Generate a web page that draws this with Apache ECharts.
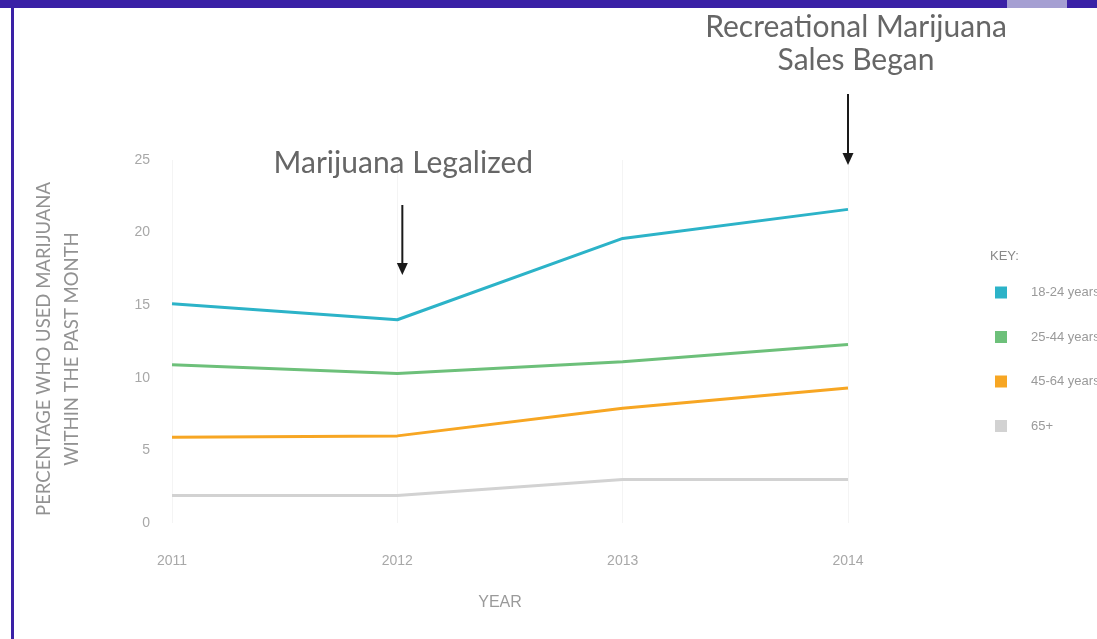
<!DOCTYPE html>
<html>
<head>
<meta charset="utf-8">
<script src="https://cdn.jsdelivr.net/npm/echarts@6/dist/echarts.min.js"></script>
<style>
  html, body { margin: 0; padding: 0; background: #ffffff; }
  #chart { width: 1097px; height: 639px; }
</style>
</head>
<body>
<div id="chart"></div>
<script>
// Past-month marijuana use by age group, percent
const years = ['2011', '2012', '2013', '2014'];
const age18to24 = [15.1, 14.0, 19.6, 21.6];
const age25to44 = [10.9, 10.3, 11.1, 12.3];
const age45to64 = [5.9, 6.0, 7.9, 9.3];
const age65plus = [1.9, 1.9, 3.0, 3.0];
const seriesNames = ['18-24 years', '25-44 years', '45-64 years', '65+'];
const yTicks = [0, 5, 10, 15, 20, 25];

const colors = ['#2cb3c8', '#6dc07a', '#f7a623', '#d2d2d2'];
const tickFont = '"Liberation Sans Narrow", "Liberation Sans", sans-serif';
const labelFont = 'Lato, "Open Sans", sans-serif';

const chart = echarts.init(document.getElementById('chart'), null, { renderer: 'canvas' });

const seriesData = [age18to24, age25to44, age45to64, age65plus];

const option = {
  backgroundColor: '#ffffff',
  animation: false,
  grid: { left: 172, right: 249, top: 160, bottom: 116, containLabel: false },
  xAxis: {
    type: 'category',
    data: years,
    boundaryGap: false,
    axisLine: { show: false },
    axisTick: { show: false },
    axisLabel: { color: '#a8a8a8', fontSize: 14, fontFamily: tickFont, margin: 31 },
    splitLine: { show: true, lineStyle: { color: '#f4f4f4', width: 1 } }
  },
  yAxis: {
    type: 'value',
    min: yTicks[0],
    max: yTicks[yTicks.length - 1],
    interval: 5,
    axisLine: { show: false },
    axisTick: { show: false },
    axisLabel: { color: '#a8a8a8', fontSize: 14, fontFamily: tickFont, margin: 22 },
    splitLine: { show: false }
  },
  legend: {
    orient: 'vertical',
    left: 990,
    top: 281,
    itemWidth: 12,
    itemHeight: 12,
    itemGap: 31.5,
    icon: 'rect',
    data: seriesNames,
    textStyle: { color: '#9a9a9a', fontSize: 13, fontFamily: tickFont, padding: [0, 0, 0, 19] }
  },
  series: seriesNames.map((name, i) => ({
    name: name,
    type: 'line',
    data: seriesData[i],
    symbol: 'none',
    smooth: false,
    lineStyle: { color: colors[i], width: 3 },
    itemStyle: { color: colors[i] },
    z: 10 - i
  }))
};

chart.setOption(option);

// Arrow annotation pointing down at a given category
function arrow(x, yTop, yBottom) {
  return [
    {
      type: 'line',
      shape: { x1: x, y1: yTop, x2: x, y2: yBottom - 10 },
      style: { stroke: '#1a1a1a', lineWidth: 2 }
    },
    {
      type: 'polygon',
      shape: { points: [[x - 5.5, yBottom - 12], [x + 5.5, yBottom - 12], [x, yBottom]] },
      style: { fill: '#1a1a1a' }
    }
  ];
}

const xLegal = chart.convertToPixel({ xAxisIndex: 0 }, '2012');
const xSales = chart.convertToPixel({ xAxisIndex: 0 }, '2014');

chart.setOption({
  graphic: [
    // page frame
    { type: 'rect', shape: { x: 0, y: 0, width: 1097, height: 8 }, style: { fill: '#3a21a6' } },
    { type: 'rect', shape: { x: 1007, y: 0, width: 60, height: 8 }, style: { fill: '#a59fd2' } },
    { type: 'rect', shape: { x: 11, y: 0, width: 3, height: 639 }, style: { fill: '#3a21a6' } },
    // axis titles
    {
      type: 'text', x: 58, y: 349, rotation: Math.PI / 2,
      style: {
        text: 'PERCENTAGE WHO USED MARIJUANA\nWITHIN THE PAST MONTH',
        fill: '#929292', font: '18.5px ' + labelFont, align: 'center', verticalAlign: 'middle',
        lineHeight: 28
      }
    },
    {
      type: 'text', x: 500, y: 603,
      style: { text: 'YEAR', fill: '#9a9a9a', font: '16px ' + tickFont, align: 'center', verticalAlign: 'middle' }
    },
    // legend heading
    {
      type: 'text', x: 990, y: 256,
      style: { text: 'KEY:', fill: '#8a8a8a', font: '13px ' + tickFont, align: 'left', verticalAlign: 'middle' }
    },
    // event annotations
    {
      type: 'text', x: xLegal + 6, y: 163,
      style: { text: 'Marijuana Legalized', fill: '#666666', font: '30px ' + labelFont, align: 'center', verticalAlign: 'middle' }
    },
    ...arrow(xLegal + 5, 205, 275),
    {
      type: 'text', x: xSales + 8, y: 44,
      style: {
        text: 'Recreational Marijuana\nSales Began', fill: '#666666', font: '30px ' + labelFont,
        align: 'center', verticalAlign: 'middle', lineHeight: 33
      }
    },
    ...arrow(xSales, 94, 165)
  ]
});
</script>
</body>
</html>
